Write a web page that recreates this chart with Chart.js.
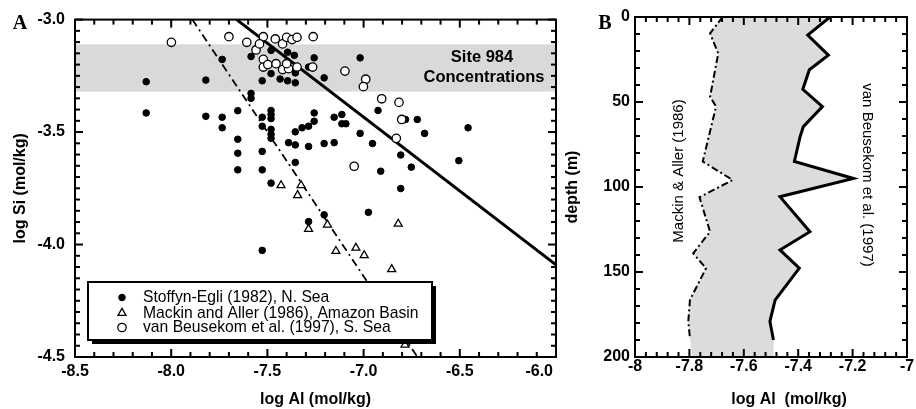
<!DOCTYPE html>
<html><head><meta charset="utf-8">
<script src="https://cdn.jsdelivr.net/npm/chart.js@4.4.0/dist/chart.umd.min.js"></script>
<style>
html,body{margin:0;padding:0;background:#fff;}
#wrap{position:relative;width:916px;height:409px;overflow:hidden;background:#fff;}
#ca{position:absolute;left:0;top:0;width:600px;height:409px;}
#cb{position:absolute;left:556px;top:0;width:360px;height:409px;}
</style></head><body>
<div id="wrap"><canvas id="ca" width="600" height="409"></canvas><canvas id="cb" width="360" height="409"></canvas></div>
<script>
// ---------- Panel A data ----------
const seriesNames = ['Stoffyn-Egli (1982), N. Sea', 'Mackin and Aller (1986), Amazon Basin', 'van Beusekom et al. (1997), S. Sea'];
const stoffynAl = [-8.13,-8.13,-7.82,-7.82,-7.735,-7.735,-7.735,-7.654,-7.654,-7.654,-7.654,-7.585,-7.585,-7.585,-7.527,-7.527,-7.527,-7.527,-7.527,-7.481,-7.481,-7.481,-7.481,-7.481,-7.481,-7.481,-7.481,-7.481,-7.434,-7.395,-7.395,-7.36,-7.355,-7.355,-7.39,-7.355,-7.355,-7.355,-7.32,-7.286,-7.286,-7.257,-7.257,-7.257,-7.286,-7.205,-7.018,-7.153,-7.113,-7.113,-7.092,-7.205,-7.153,-7.018,-6.954,-6.925,-6.807,-6.752,-6.911,-6.782,-6.721,-6.683,-6.457,-6.505,-6.807,-7.527,-7.286,-7.205,-6.975];
const stoffynSi = [-3.276,-3.415,-3.269,-3.43,-3.177,-3.434,-3.481,-3.405,-3.532,-3.594,-3.668,-3.164,-3.328,-3.35,-3.272,-3.434,-3.474,-3.586,-3.668,-3.137,-3.24,-3.404,-3.422,-3.44,-3.488,-3.51,-3.528,-3.727,-3.264,-3.272,-3.145,-3.159,-3.237,-3.281,-3.547,-3.499,-3.557,-3.635,-3.481,-3.474,-3.564,-3.452,-3.415,-3.17,-3.211,-3.259,-3.17,-3.434,-3.422,-3.463,-3.463,-3.551,-3.547,-3.506,-3.551,-3.404,-3.602,-3.656,-3.674,-3.444,-3.444,-3.506,-3.481,-3.627,-3.751,-4.026,-3.898,-3.868,-3.857];
const mackinAl = [-7.429,-7.325,-7.343,-7.286,-7.188,-6.82,-7.144,-7.04,-6.997,-6.854,-6.785];
const mackinSi = [-3.737,-3.737,-3.781,-3.931,-3.912,-3.908,-4.029,-4.015,-4.048,-4.11,-4.446];
const beusekomAl = [-7.999,-7.7,-7.607,-7.559,-7.521,-7.541,-7.459,-7.421,-7.4,-7.372,-7.346,-7.262,-7.521,-7.521,-7.498,-7.455,-7.421,-7.39,-7.4,-7.346,-7.265,-7.097,-6.989,-7.001,-6.906,-6.816,-6.802,-6.83,-7.049];
const beusekomSi = [-3.101,-3.076,-3.101,-3.135,-3.076,-3.108,-3.086,-3.108,-3.079,-3.089,-3.079,-3.076,-3.177,-3.211,-3.2,-3.196,-3.222,-3.218,-3.196,-3.211,-3.211,-3.229,-3.265,-3.298,-3.352,-3.368,-3.444,-3.528,-3.652];
const solidFitAl = [-7.66, -6.0];
const solidFitSi = [-3.0, -4.09];
const dashFitAl = [-7.89, -6.72];
const dashFitSi = [-3.0, -4.5];
const siteBandSi = [-3.11, -3.32];
const siteBandText = ['Site 984', 'Concentrations'];
const xTicksA = [-8.5, -8.0, -7.5, -7.0, -6.5, -6.0];
const yTicksA = [-3.0, -3.5, -4.0, -4.5];

// ---------- Panel B data ----------
const vbDepth = [0, 10.6, 22.4, 31, 42.5, 52.7, 64.5, 70.4, 85, 95, 105.7, 126.3, 137, 147.8, 166.5, 179, 190];
const vbAl = [-7.283,-7.365,-7.289,-7.359,-7.383,-7.311,-7.381,-7.393,-7.414,-7.197,-7.467,-7.357,-7.467,-7.396,-7.485,-7.504,-7.491];
const maDepth = [0, 9.6, 21.4, 46.9, 52.7, 85, 95.9, 106, 126.3, 139, 147.8, 166.5, 179, 189];
const maAl = [-7.678,-7.724,-7.694,-7.724,-7.702,-7.751,-7.641,-7.763,-7.724,-7.786,-7.739,-7.798,-7.804,-7.798];
const fillBottomDepth = 200;
const fillBottomAl = [-7.79, -7.49];
const xTicksB = [-8, -7.8, -7.6, -7.4, -7.2, -7];
const yTicksB = [0, 50, 100, 150, 200];

const FONT = "'Liberation Sans', Arial, Helvetica, sans-serif";
Chart.defaults.font.family = FONT;
Chart.defaults.color = '#000';

const zip = (xs, ys) => xs.map((v, i) => ({x: v, y: ys[i]}));
const fmt1 = v => Number(v).toFixed(1);
const fmtB = v => String(Number(Number(v).toFixed(1)));

// frame + inward ticks on all four sides
function makeFrameTicks(cfg) {
  return {
    id: 'frameTicks' + cfg.name,
    afterDraw(chart) {
      const ctx = chart.ctx;
      const a = chart.chartArea;
      const xs = chart.scales.x, ys = chart.scales.y;
      const w = cfg.tickWidth;
      ctx.save();
      ctx.fillStyle = '#000';
      const nx = Math.round(Math.abs(xs.max - xs.min) / cfg.xMinor);
      const rx = Math.round(cfg.xMajor / cfg.xMinor);
      for (let i = 0; i <= nx; i++) {
        const px = xs.getPixelForValue(xs.min + i * cfg.xMinor);
        const len = (i % rx === 0) ? cfg.majorLen : cfg.minorLen;
        ctx.fillRect(px - w / 2, a.bottom - len, w, len);
        ctx.fillRect(px - w / 2, a.top, w, len);
      }
      const ny = Math.round(Math.abs(ys.max - ys.min) / cfg.yMinor);
      const ry = Math.round(cfg.yMajor / cfg.yMinor);
      for (let i = 0; i <= ny; i++) {
        const py = ys.getPixelForValue(ys.min + i * cfg.yMinor);
        const len = (i % ry === 0) ? cfg.majorLen : cfg.minorLen;
        ctx.fillRect(a.left, py - w / 2, len, w);
        ctx.fillRect(a.right - len, py - w / 2, len, w);
      }
      ctx.strokeStyle = '#000';
      ctx.lineWidth = cfg.frameWidth;
      ctx.strokeRect(a.left, a.top, a.right - a.left, a.bottom - a.top);
      ctx.restore();
    }
  };
}

function makeLetter(text, x, y) {
  return {
    id: 'letter' + text,
    afterDraw(chart) {
      const ctx = chart.ctx;
      ctx.save();
      ctx.fillStyle = '#000';
      ctx.font = "bold 20px 'Liberation Serif', 'DejaVu Serif', serif";
      ctx.textAlign = 'center';
      ctx.textBaseline = 'middle';
      ctx.fillText(text, x, y);
      ctx.restore();
    }
  };
}

// Panel A: shaded band + label + last x label nudged inside
const siteBand = {
  id: 'siteBand',
  beforeDatasetsDraw(chart) {
    const {ctx, chartArea: a} = chart;
    const ys = chart.scales.y;
    const y1 = ys.getPixelForValue(siteBandSi[0]);
    const y2 = ys.getPixelForValue(siteBandSi[1]);
    ctx.save();
    ctx.fillStyle = '#d9d9d9';
    ctx.fillRect(a.left, y1, a.right - a.left, y2 - y1);
    ctx.fillStyle = '#000';
    ctx.font = "bold 16.5px " + FONT;
    ctx.textAlign = 'center';
    ctx.textBaseline = 'middle';
    ctx.fillText(siteBandText[0], 482, 57);
    ctx.fillText(siteBandText[1], 484, 77);
    ctx.restore();
  },
  afterDraw(chart) {
    const ctx = chart.ctx;
    const xs = chart.scales.x;
    const v = xTicksA[xTicksA.length - 1];
    ctx.save();
    ctx.fillStyle = '#000';
    ctx.font = "bold 16px " + FONT;
    ctx.textAlign = 'right';
    ctx.textBaseline = 'middle';
    ctx.fillText(fmt1(v), xs.getPixelForValue(v) - 3, 372);
    ctx.restore();
  }
};

const legendA = {
  id: 'legendA',
  afterDraw(chart) {
    const ctx = chart.ctx;
    const bx = 88, by = 282, bw = 344, bh = 58, sh = 4;
    ctx.save();
    ctx.fillStyle = '#000';
    ctx.fillRect(bx + sh, by + sh, bw, bh);
    ctx.fillStyle = '#fff';
    ctx.fillRect(bx, by, bw, bh);
    ctx.strokeStyle = '#000';
    ctx.lineWidth = 2;
    ctx.strokeRect(bx, by, bw, bh);
    const rows = [297.5, 313, 327.5];
    ctx.font = "15.7px " + FONT;
    ctx.textAlign = 'left';
    ctx.textBaseline = 'middle';
    for (let i = 0; i < 3; i++) {
      const ds = chart.data.datasets[i];
      ctx.fillStyle = ds.pointBackgroundColor;
      ctx.strokeStyle = ds.pointBorderColor;
      ctx.lineWidth = ds.pointBorderWidth;
      Chart.helpers.drawPoint(ctx, {pointStyle: ds.pointStyle, radius: ds.pointRadius, borderWidth: ds.pointBorderWidth, rotation: 0}, 122, rows[i]);
      ctx.fillStyle = '#000';
      ctx.fillText(ds.label, 143, rows[i] + 0.5);
    }
    ctx.restore();
  }
};

const tickFont = {size: 16, weight: 'bold'};
const titleFont = {size: 16, weight: 'bold'};

new Chart(document.getElementById('ca'), {
  type: 'scatter',
  data: {
    datasets: [
      {label: seriesNames[0], data: zip(stoffynAl, stoffynSi), pointStyle: 'circle', pointRadius: 3.3, pointBackgroundColor: '#000', pointBorderColor: '#000', pointBorderWidth: 1, order: 2},
      {label: seriesNames[1], data: zip(mackinAl, mackinSi), pointStyle: 'triangle', pointRadius: 4.6, pointBackgroundColor: '#fff', pointBorderColor: '#000', pointBorderWidth: 1.3, order: 1},
      {label: seriesNames[2], data: zip(beusekomAl, beusekomSi), pointStyle: 'circle', pointRadius: 4.2, pointBackgroundColor: '#fff', pointBorderColor: '#000', pointBorderWidth: 1.3, order: 0},
      {label: 'fit1', data: zip(solidFitAl, solidFitSi), showLine: true, borderColor: '#000', borderWidth: 3, pointRadius: 0, order: 3},
      {label: 'fit2', data: zip(dashFitAl, dashFitSi), showLine: true, borderColor: '#000', borderWidth: 1.8, borderDash: [8, 4, 2, 4], pointRadius: 0, order: 4}
    ]
  },
  options: {
    responsive: false, animation: false, devicePixelRatio: 1,
    layout: {padding: {left: 0, top: 17, right: 44, bottom: 0}},
    plugins: {legend: {display: false}, tooltip: {enabled: false}},
    scales: {
      x: {type: 'linear', min: -8.5, max: -6.0,
        afterBuildTicks: s => { s.ticks = xTicksA.map(v => ({value: v})); },
        afterFit: s => { s.height = 52; },
        ticks: {callback: (v, i, arr) => (i === arr.length - 1 ? '' : fmt1(v)), font: tickFont, color: '#000', padding: 5, maxRotation: 0, autoSkip: false},
        grid: {display: false, drawTicks: false}, border: {display: false},
        title: {display: true, text: 'log Al (mol/kg)', font: titleFont, color: '#000', padding: 0}},
      y: {type: 'linear', min: -4.5, max: -3.0,
        afterBuildTicks: s => { s.ticks = yTicksA.map(v => ({value: v})); },
        afterFit: s => { s.width = 75; },
        ticks: {callback: fmt1, font: tickFont, color: '#000', padding: 10, autoSkip: false},
        grid: {display: false, drawTicks: false}, border: {display: false},
        title: {display: true, text: 'log Si (mol/kg)', font: titleFont, color: '#000', padding: 11}}
    }
  },
  plugins: [siteBand, makeFrameTicks({name: 'A', xMinor: 0.1, xMajor: 0.5, yMinor: 0.05, yMajor: 0.5, majorLen: 8, minorLen: 5, tickWidth: 2, frameWidth: 2}), legendA, makeLetter('A', 20, 24)]
});

// ---------- Panel B ----------
const fillPolygon = zip(vbAl, vbDepth)
  .concat([{x: fillBottomAl[1], y: fillBottomDepth}, {x: fillBottomAl[0], y: fillBottomDepth}])
  .concat(zip(maAl, maDepth).reverse());

const labelsB = {
  id: 'labelsB',
  afterDraw(chart) {
    const ctx = chart.ctx;
    const put = (txt, font, x, y, rot) => {
      ctx.save();
      ctx.fillStyle = '#000';
      ctx.textAlign = 'center';
      ctx.textBaseline = 'middle';
      ctx.font = font;
      ctx.translate(x, y);
      ctx.rotate(rot);
      ctx.fillText(txt, 0, 0);
      ctx.restore();
    };
    put('Mackin & Aller (1986)', "15px " + FONT, 679 - 556, 171, -Math.PI / 2);
    put('van Beusekom et al. (1997)', "15px " + FONT, 867 - 556, 175, Math.PI / 2);
    put('log Al  (mol/kg)', "bold 16px " + FONT, 789 - 556, 400, 0);
  }
};

new Chart(document.getElementById('cb'), {
  type: 'scatter',
  data: {
    datasets: [
      {label: 'band', data: fillPolygon, showLine: true, fill: 'shape', backgroundColor: '#dcdcdc', borderWidth: 0, borderColor: 'rgba(0,0,0,0)', pointRadius: 0, order: 5},
      {label: 'van Beusekom et al. (1997)', data: zip(vbAl, vbDepth), showLine: true, borderColor: '#000', borderWidth: 3, pointRadius: 0, order: 1},
      {label: 'Mackin & Aller (1986)', data: zip(maAl, maDepth), showLine: true, borderColor: '#000', borderWidth: 2, borderDash: [7, 3, 2, 3], pointRadius: 0, order: 2}
    ]
  },
  options: {
    responsive: false, animation: false, devicePixelRatio: 1,
    layout: {padding: {left: 0, top: 17, right: 9, bottom: 0}},
    plugins: {legend: {display: false}, tooltip: {enabled: false}},
    scales: {
      x: {type: 'linear', min: -8, max: -7,
        afterBuildTicks: s => { s.ticks = xTicksB.map(v => ({value: v})); },
        afterFit: s => { s.height = 52; },
        ticks: {callback: fmtB, font: tickFont, color: '#000', padding: 0, maxRotation: 0, autoSkip: false},
        grid: {display: false, drawTicks: false}, border: {display: false},
        title: {display: false}},
      y: {type: 'linear', min: 0, max: 200, reverse: true,
        afterBuildTicks: s => { s.ticks = yTicksB.map(v => ({value: v})); },
        afterFit: s => { s.width = 79; },
        ticks: {font: tickFont, color: '#000', padding: 5, autoSkip: false},
        grid: {display: false, drawTicks: false}, border: {display: false},
        title: {display: true, text: 'depth (m)', font: titleFont, color: '#000', padding: 7}}
    }
  },
  plugins: [makeFrameTicks({name: 'B', xMinor: 0.04, xMajor: 0.2, yMinor: 10, yMajor: 50, majorLen: 8, minorLen: 5, tickWidth: 2, frameWidth: 2}), labelsB, makeLetter('B', 605 - 556, 24)]
});
</script>
</body></html>
